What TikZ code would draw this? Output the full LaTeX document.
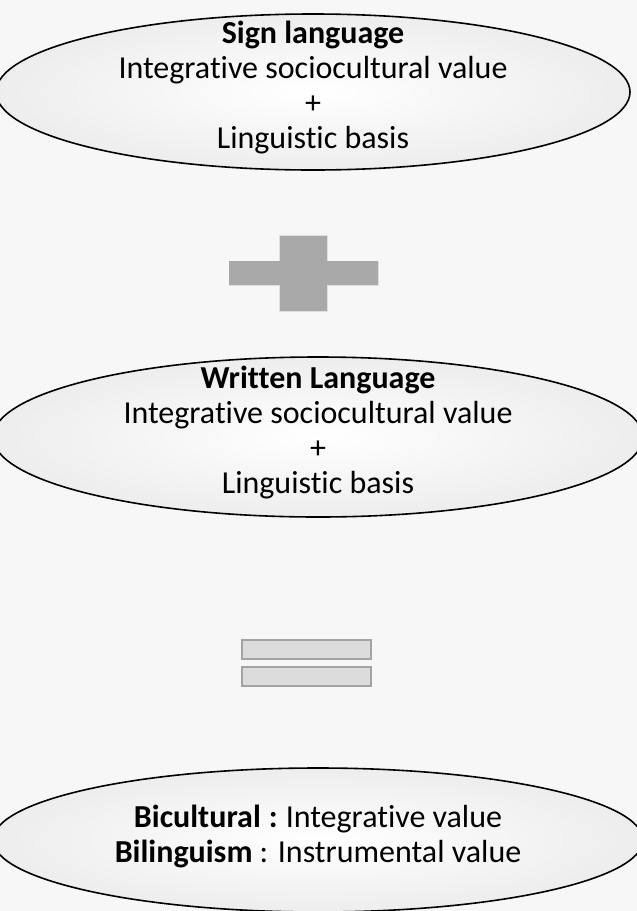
\documentclass[tikz,border=0pt]{standalone}
\usepackage{fontspec}
\setmainfont{Carlito}[Ligatures=NoCommon]
\usetikzlibrary{shapes.geometric}
\definecolor{bgc}{HTML}{F7F7F7}
\definecolor{plusc}{HTML}{A9A9A9}
\definecolor{eqfill}{HTML}{DCDCDC}
\definecolor{eqline}{HTML}{A3A3A3}
\tikzset{
  oval/.style={ellipse, draw=black, line width=1.6pt, inner color=white, outer color=gray!14, inner sep=0pt},
  ovaltext/.style={align=center, inner sep=0pt, font=\fontsize{32}{34.7}\selectfont},
  eqbar/.style={rectangle, draw=eqline, fill=eqfill, line width=2pt, minimum width=129pt, minimum height=19pt, inner sep=0pt},
  plusbar/.style={rectangle, fill=plusc, draw=gray!25, line width=0.4pt, inner sep=0pt}
}
\begin{document}
\begin{tikzpicture}[x=1pt,y=-1pt]
\fill[bgc] (0,0) rectangle (637,911);
\useasboundingbox (0,0) rectangle (637,911);
\clip (0,0) rectangle (637,911);
\node[oval, minimum width=634pt, minimum height=156pt] (sign) at (313,92) {};
\node[ovaltext] (signtext) at (313,87.5)
  {\textbf{Sign language}\\Integrative sociocultural value\\+\\Linguistic basis};
\node[plusbar, minimum width=149pt, minimum height=24pt] (plush) at (303.5,273) {};
\node[plusbar, minimum width=48pt, minimum height=76pt] (plusv) at (303,273) {};
\fill[plusc] (plush.north west) rectangle (plush.south east);
\node[oval, minimum width=650pt, minimum height=160pt] (written) at (318,437) {};
\node[ovaltext] (writtentext) at (318,432.5)
  {\textbf{Written Language}\\Integrative sociocultural value\\+\\Linguistic basis};
\node[eqbar] (eqtop) at (306.5,649) {};
\node[eqbar] (eqbot) at (306.5,676.5) {};
\node[oval, minimum width=650pt, minimum height=144pt] (result) at (318,840) {};
\node[ovaltext] (resulttext) at (318,836.5)
  {\textbf{Bicultural}\makebox[25pt][c]{\textbf{:}}Integrative value\\\textbf{Bilinguism} : Instrumental value};
\end{tikzpicture}
\end{document}
